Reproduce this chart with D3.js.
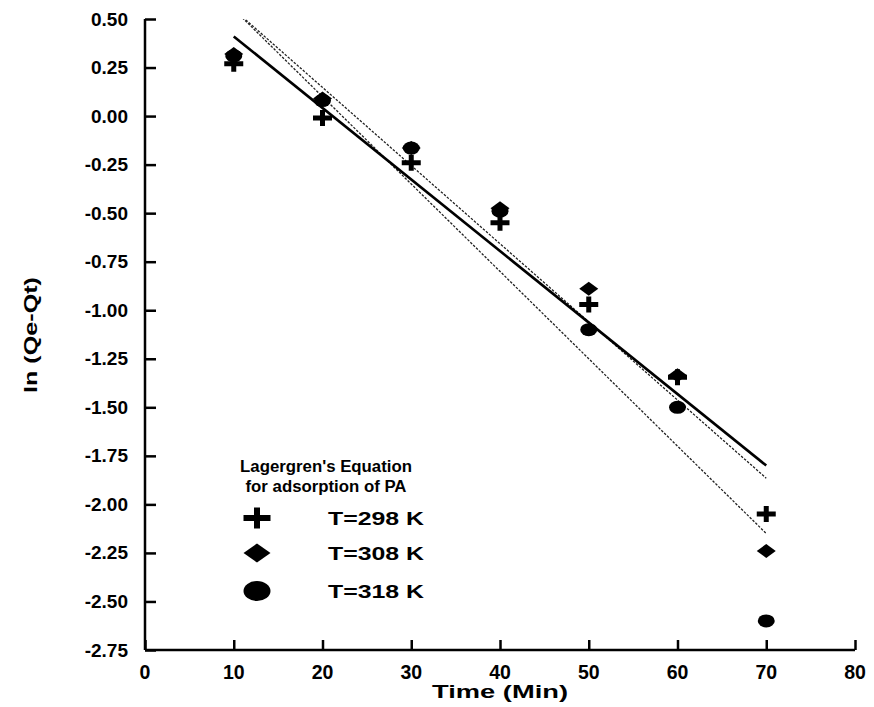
<!DOCTYPE html>
<html><head><meta charset="utf-8">
<script src="https://cdn.jsdelivr.net/npm/d3@7"></script>
<style>body{margin:0;background:#fff}svg{display:block}text{font-family:"Liberation Sans",Arial,sans-serif;font-weight:bold;fill:#000}</style>
</head><body><svg id="c" width="874" height="707"></svg>
<script>
const times = [10, 20, 30, 40, 50, 60, 70];
const seriesNames = ["T=298 K", "T=308 K", "T=318 K"];
const t298 = [0.27, -0.01, -0.24, -0.55, -0.97, -1.345, -2.05];
const t308 = [0.32, 0.09, -0.165, -0.475, -0.89, -1.335, -2.24];
const t318 = [0.31, 0.08, -0.165, -0.49, -1.10, -1.50, -2.60];
const fitX = [10, 70];
const fit298 = [0.41, -1.80];
const fit308 = [0.55, -1.865];
const fit318 = [0.55, -2.15];
const xTicks = [0, 10, 20, 30, 40, 50, 60, 70, 80];
const yTicks = [0.5, 0.25, 0, -0.25, -0.5, -0.75, -1, -1.25, -1.5, -1.75, -2, -2.25, -2.5, -2.75];
const legendTitle = ["Lagergren's Equation", "for adsorption of PA"];

const svg = d3.select("#c");
const x = d3.scaleLinear().domain([0, 80]).range([145, 855]);
const y = d3.scaleLinear().domain([-2.75, 0.5]).range([650, 19]);

svg.append("clipPath").attr("id","clip").append("rect")
  .attr("x",145).attr("y",19).attr("width",710).attr("height",631);

// axes
const gy = svg.append("g").attr("transform","translate(145,0)")
  .call(d3.axisRight(y).tickValues(yTicks).tickSize(11).tickFormat(""));
const gx = svg.append("g").attr("transform","translate(0,650)")
  .call(d3.axisTop(x).tickValues(xTicks).tickSize(10).tickFormat(""));
[gy,gx].forEach(g=>{g.selectAll("path").attr("stroke","#000").attr("stroke-width",2.5);
  g.selectAll("line").attr("stroke","#000").attr("stroke-width",2.5);});
gy.select(".domain").attr("d","M0,19V650");
gx.select(".domain").attr("d","M145,0H855");

svg.append("g").selectAll("text").data(yTicks).join("text")
  .attr("x",128).attr("y",d=>y(d)+6.5).attr("text-anchor","end")
  .style("font-size","19px").text(d=>d3.format(".2f")(d).replace("\u2212","-"));
svg.append("g").selectAll("text").data(xTicks).join("text")
  .attr("x",d=>x(d)).attr("y",679).attr("text-anchor","middle")
  .style("font-size","19.5px").text(d=>d);

svg.append("text").attr("x",500).attr("y",698).attr("text-anchor","middle")
  .attr("textLength",136).attr("lengthAdjust","spacingAndGlyphs")
  .style("font-size","18.5px").text("Time (Min)");
svg.append("text").attr("transform","translate(37,335) rotate(-90)").attr("text-anchor","middle")
  .attr("textLength",116).attr("lengthAdjust","spacingAndGlyphs")
  .style("font-size","18.5px").text("ln (Qe-Qt)");

// fit lines
const line = d3.line().x((d,i)=>x(fitX[i])).y(d=>y(d));
const gl = svg.append("g").attr("clip-path","url(#clip)");
gl.append("path").attr("d",line(fit318)).attr("fill","none").attr("stroke","#222").attr("stroke-width",1.3).attr("stroke-dasharray","2.5,1.5");
gl.append("path").attr("d",line(fit308)).attr("fill","none").attr("stroke","#222").attr("stroke-width",1.3).attr("stroke-dasharray","2.5,1.5");
gl.append("path").attr("d",line(fit298)).attr("fill","none").attr("stroke","#000").attr("stroke-width",2.6);

// markers
function plus(w,h,t){return `M${-w/2},${-t/2}H${-t/2}V${-h/2}H${t/2}V${-t/2}H${w/2}V${t/2}H${t/2}V${h/2}H${-t/2}V${t/2}H${-w/2}Z`;}
function diamond(w,h){return `M0,${-h/2}L${w/2},0L0,${h/2}L${-w/2},0Z`;}
function ellipse(w,h){return `M${-w/2},0A${w/2},${h/2} 0 1,0 ${w/2},0A${w/2},${h/2} 0 1,0 ${-w/2},0Z`;}

svg.append("g").selectAll("path").data(t318).join("path")
  .attr("transform",(d,i)=>`translate(${x(times[i])},${y(d)})`).attr("d",ellipse(17,13));
svg.append("g").selectAll("path").data(t308).join("path")
  .attr("transform",(d,i)=>`translate(${x(times[i])},${y(d)})`).attr("d",diamond(19,14));
svg.append("g").selectAll("path").data(t298).join("path")
  .attr("transform",(d,i)=>`translate(${x(times[i])},${y(d)})`).attr("d",plus(19,16,5));

// legend
svg.append("g").selectAll("text").data(legendTitle).join("text")
  .attr("x",326).attr("y",(d,i)=>472+i*20).attr("text-anchor","middle")
  .style("font-size","16.8px").text(d=>d);
const lgY = [518, 553, 591];
const lgShapes = [plus(27,21,6), diamond(27,19), ellipse(27,20)];
const lg = svg.append("g").selectAll("g").data(seriesNames).join("g")
  .attr("transform",(d,i)=>`translate(257,${lgY[i]})`);
lg.append("path").attr("d",(d,i)=>lgShapes[i]);
lg.append("text").attr("x",71).attr("y",6.5).attr("textLength",96).attr("lengthAdjust","spacingAndGlyphs")
  .style("font-size","18px").text(d=>d);
</script></body></html>
